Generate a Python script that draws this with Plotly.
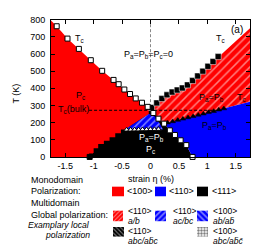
import plotly.graph_objects as go

# ---------------- data ----------------
# left Tc line (white squares)
left_tc_x = [-1.65, -1.46, -1.26, -1.05, -0.85, -0.65, -0.56, -0.46, -0.36, -0.26, -0.15, -0.05,
             0.05, 0.14, 0.24, 0.34, 0.43, 0.53, 0.63, 0.74]
left_tc_T = [762, 690, 630, 564, 502, 449, 424, 393, 367, 341, 316, 292,
             256, 223, 194, 155, 128, 97, 69, 0]
# right Tc line (black squares)
right_tc_x = [0.02, 0.11, 0.20, 0.29, 0.38, 0.47, 0.56, 0.65, 0.74, 0.83, 0.92, 1.01, 1.10, 1.19]
right_tc_T = [288, 315, 340, 362, 378, 390, 402, 420, 445, 472, 500, 528, 556, 585]
# Tc' line (black triangles, right)
tcp_right_x = [0.30, 0.39, 0.48, 0.57, 0.66, 0.75, 0.84, 0.93, 1.02, 1.11, 1.20, 1.29]
tcp_right_T = [200, 207, 215, 222, 230, 237, 245, 252, 260, 267, 275, 282]
# Tc' line (open triangles, centre)
tcp_center_x = [-0.42, -0.35, -0.28, -0.21, -0.14, -0.07, 0.0, 0.07, 0.14]
tcp_center_T = [158, 158, 159, 159, 160, 160, 161, 161, 162]
# single black square at T=0
black_pt_x = [-1.07]
black_pt_T = [0]
# staircase boundary red / black
stair_x = [-1.08, -1.08, -1.0, -1.0, -0.92, -0.92, -0.82, -0.82, -0.72, -0.72, -0.62, -0.62, -0.52, -0.52, -0.45]
stair_T = [0, 20, 20, 50, 50, 75, 75, 95, 95, 115, 115, 138, 138, 160, 160]
# edges of plot range
x_min, x_max = -1.75, 1.75
T_top_left = 795
T_top_right = 750
T_tcp_right_edge = 321
# blue hatched (ac/bc) region
bh_x = [-0.45, 0.22, 0.12, 0.04, -0.03]
bh_T = [160, 160, 220, 248, 250]
# bulk Tc
tc_bulk = 272
tc_bulk_x = [-1.08, 1.25]

x_tickvals = [-1.5, -1, -0.5, 0, 0.5, 1, 1.5]
x_ticktext = ["-1.5", "-1", "-0.5", "0", "0.5", "1", "1.5"]
y_tickvals = [0, 100, 200, 300, 400, 500, 600, 700, 800]

RED, BLUE, BLACK = "#ff0000", "#0000ff", "#000000"
FONT = "Liberation Sans, Arial, sans-serif"

W, H = 264, 247
fig = go.Figure()

# ---------------- regions ----------------
black_x = [-1.2] + left_tc_x[11:][::-1] + [-1.2]
black_T = [0] + left_tc_T[11:][::-1] + [292]
fig.add_trace(go.Scatter(x=black_x, y=black_T, fill="toself", fillcolor=BLACK,
                         mode="lines", line=dict(width=0), hoverinfo="skip"))

red_x = [x_min] + stair_x + [-0.03, -0.03] + left_tc_x[:12][::-1] + [x_min]
red_T = [0] + stair_T + [250, 285] + left_tc_T[:12][::-1] + [T_top_left]
fig.add_trace(go.Scatter(x=red_x, y=red_T, fill="toself", fillcolor=RED,
                         mode="lines", line=dict(width=0), hoverinfo="skip"))

fig.add_trace(go.Scatter(x=bh_x, y=bh_T, fill="toself", fillcolor=BLUE,
                         fillpattern=dict(shape="/", bgcolor=BLUE, fgcolor="white", size=5, solidity=0.3),
                         mode="lines", line=dict(width=0), hoverinfo="skip"))

rh_x = right_tc_x + [x_max, x_max] + tcp_right_x[::-1] + left_tc_x[12:15][::-1]
rh_T = right_tc_T + [T_top_right, T_tcp_right_edge] + tcp_right_T[::-1] + left_tc_T[12:15][::-1]
fig.add_trace(go.Scatter(x=rh_x, y=rh_T, fill="toself", fillcolor=RED,
                         fillpattern=dict(shape="/", bgcolor=RED, fgcolor="white", size=6, solidity=0.25),
                         mode="lines", line=dict(width=0), hoverinfo="skip"))

blue_x = [0.74, x_max, x_max] + tcp_right_x[::-1] + left_tc_x[14:19]
blue_T = [0, 0, T_tcp_right_edge] + tcp_right_T[::-1] + left_tc_T[14:19]
fig.add_trace(go.Scatter(x=blue_x, y=blue_T, fill="toself", fillcolor=BLUE,
                         mode="lines", line=dict(width=0), hoverinfo="skip"))

# ---------------- lines ----------------
fig.add_trace(go.Scatter(x=tc_bulk_x, y=[tc_bulk, tc_bulk], mode="lines",
                         line=dict(color="black", width=1, dash="3px,2px"), hoverinfo="skip"))
fig.add_trace(go.Scatter(x=[0, 0], y=[290, 800], mode="lines",
                         line=dict(color="#888888", width=1, dash="3px,2px"), hoverinfo="skip"))

# ---------------- markers ----------------
fig.add_trace(go.Scatter(x=tcp_right_x, y=tcp_right_T, mode="markers",
                         marker=dict(symbol="triangle-up", size=5, color="black",
                                     line=dict(color="black", width=0.5))))
fig.add_trace(go.Scatter(x=tcp_center_x, y=tcp_center_T, mode="markers",
                         marker=dict(symbol="triangle-up", size=5, color="white",
                                     line=dict(color="black", width=1))))
fig.add_trace(go.Scatter(x=right_tc_x, y=right_tc_T, mode="markers",
                         marker=dict(symbol="square", size=6, color="black",
                                     line=dict(color="white", width=0.5))))
fig.add_trace(go.Scatter(x=left_tc_x, y=left_tc_T, mode="markers", cliponaxis=False,
                         marker=dict(symbol="square", size=5, color="white",
                                     line=dict(color="black", width=1))))
fig.add_trace(go.Scatter(x=black_pt_x, y=black_pt_T, mode="markers", cliponaxis=False,
                         marker=dict(symbol="square", size=5, color="black",
                                     line=dict(color="black", width=1))))

# ---------------- in-plot labels ----------------
def lab(x, y, t, color="black", size=9):
    fig.add_annotation(x=x, y=y, xref="x", yref="y", text=t, showarrow=False,
                       font=dict(family=FONT, size=size, color=color))

lab(-1.25, 690, "T<sub>c</sub>")
lab(-0.04, 600, "P<sub>a</sub>=P<sub>b</sub>=P<sub>c</sub>=0")
lab(1.53, 742, "(a)", size=10)
lab(1.23, 690, "T<sub>c</sub>")
lab(-1.23, 356, "P<sub>c</sub>")
lab(-1.36, 276, "T<sub>c</sub>(bulk)")
lab(1.07, 348, "P<sub>a</sub>=P<sub>b</sub>")
lab(1.6, 348, "T<sub>c</sub>")
lab(1.12, 182, "P<sub>a</sub>=P<sub>b</sub>")
lab(0.02, 112, "P<sub>a</sub>=P<sub>b</sub>", color="white")
lab(0.0, 42, "P<sub>c</sub>", color="white")

# ---------------- key (pixel-unit overlay axis) ----------------
def sw(x0, y0, x1, y1, color, pattern=None):
    kw = {}
    if pattern is not None:
        kw["fillpattern"] = pattern
    fig.add_trace(go.Scatter(x=[x0, x1, x1, x0, x0], y=[y0, y0, y1, y1, y0], xaxis="x2", yaxis="y2",
                             fill="toself", fillcolor=color, mode="lines",
                             line=dict(width=0), hoverinfo="skip", **kw))

sw(104, 181, 116, 191, RED)
sw(147, 181, 158, 191, BLUE)
sw(189, 181, 200, 191, BLACK)
sw(105, 206, 115, 217, RED, dict(shape="/", bgcolor=RED, fgcolor="white", size=3, solidity=0.35))
sw(147, 206, 158, 217, BLUE, dict(shape="/", bgcolor=BLUE, fgcolor="white", size=4, solidity=0.4))
sw(189, 206, 200, 217, BLUE, dict(shape="\\", bgcolor=BLUE, fgcolor="white", size=4, solidity=0.4))
sw(105, 223, 116, 233, BLACK, dict(shape="\\", bgcolor=BLACK, fgcolor="white", size=3, solidity=0.35))
sw(189, 223, 200, 233, "white", dict(shape=".", bgcolor="white", fgcolor="black", size=3, solidity=0.5))

def ptxt(x, y, t, anchor="left", angle=0, size=9):
    fig.add_annotation(x=x, y=y, xref="x2", yref="y2", text=t, showarrow=False,
                       xanchor=anchor, yanchor="middle", textangle=angle,
                       font=dict(family=FONT, size=size, color="black"))

ptxt(143, 173, "strain η (%)", "center")
ptxt(8, 84, "T (K)", "center", -90)
ptxt(21, 174, "Monodomain")
ptxt(21, 186, "Polarization:")
ptxt(117, 186, "&lt;100&gt;")
ptxt(159, 186, "&lt;110&gt;")
ptxt(202, 186, "&lt;111&gt;")
ptxt(21, 198, "Multidomain")
ptxt(21, 211, "Global polarization:")
ptxt(84, 220.5, "<i>Examplary local</i>", "right", size=8.6)
ptxt(84, 231, "<i>polarization</i>", "right", size=8.6)
ptxt(118, 206.5, "&lt;110&gt;", size=8.5)
ptxt(118, 216.5, "<i>a/b</i>", size=8.5)
ptxt(163, 206.5, "&lt;110&gt;", size=8.5)
ptxt(163, 216.5, "<i>ac/bc</i>", size=8.5)
ptxt(203, 206.5, "&lt;100&gt;", size=8.5)
ptxt(203, 216.5, "<i>ab/ab\u0304</i>", size=8.5)
ptxt(118, 227, "&lt;110&gt;", size=8.5)
ptxt(118, 238, "<i>abc/ab\u0304c</i>", size=8.5)
ptxt(203, 227, "&lt;100&gt;", size=8.5)
ptxt(203, 238, "<i>abc/ab\u0304c\u0304</i>", size=8.5)

axis_common = dict(showgrid=False, zeroline=False, showline=True, linecolor="black", linewidth=1,
                   mirror="ticks", ticks="inside", ticklen=4, tickcolor="black",
                   ticklabeloverflow="allow",
                   tickfont=dict(family=FONT, size=9, color="black"))
fig.update_layout(
    width=W, height=H, showlegend=False,
    margin=dict(l=0, r=0, t=0, b=0, pad=0),
    paper_bgcolor="white", plot_bgcolor="rgba(0,0,0,0)",
    xaxis=dict(domain=[43 / W, 242 / W], range=[x_min, x_max], tickvals=x_tickvals,
               ticktext=x_ticktext, anchor="y", **axis_common),
    yaxis=dict(domain=[1 - 150 / H, 1 - 7 / H], range=[0, 800], tickvals=y_tickvals,
               anchor="x", ticklabelstandoff=3, **axis_common),
    xaxis2=dict(domain=[0, 1], range=[0, W], visible=False, anchor="y2", fixedrange=True),
    yaxis2=dict(domain=[0, 1], range=[H, 0], visible=False, anchor="x2", fixedrange=True),
)

fig.write_html("out.html")
